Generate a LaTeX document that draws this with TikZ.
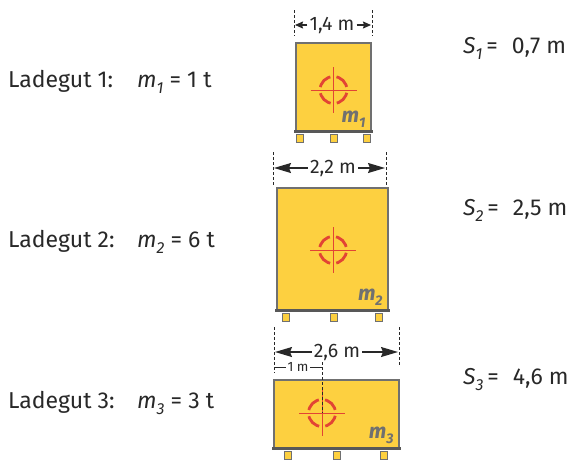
\documentclass[tikz,border=0pt]{standalone}
\usepackage{fontspec}
\setmainfont{Fira Sans}
\usetikzlibrary{arrows, arrows.meta, positioning}
\definecolor{gutgelb}{RGB}{253,208,64}
\definecolor{rahmengrau}{RGB}{112,112,112}
\definecolor{bodengrau}{RGB}{88,88,88}
\definecolor{zielrot}{RGB}{226,68,52}
\definecolor{textgrau}{RGB}{40,40,40}
\definecolor{mgrau}{RGB}{112,112,112}
\newcommand{\ix}[1]{\raisebox{-0.27em}{\fontsize{16}{16}\selectfont\itshape #1}}
\newcommand{\bix}[1]{\raisebox{-0.22em}{\fontsize{14}{14}\selectfont\bfseries\itshape #1}}
\tikzset{
    ladung/.style = {rectangle, draw=rahmengrau, line width=1.5pt, fill=gutgelb, inner sep=0pt},
    fuss/.style = {rectangle, draw=rahmengrau, line width=1pt, fill=gutgelb, minimum width=7pt, minimum height=8pt, inner sep=0pt},
    boden/.style = {line width=3pt, draw=bodengrau},
    ziel/.style = {circle, draw=zielrot, line width=2.8pt, minimum size=27pt, inner sep=0pt, dash pattern=on 15pt off 6.2pt, dash phase=18.1pt},
    kreuz/.style = {draw=zielrot, line width=0.8pt},
    hilfslinie/.style = {draw=textgrau, line width=0.8pt, dash pattern=on 3pt off 2pt},
    masspfeil/.style = {line width=1.4pt, draw=textgrau, -{Stealth[length=17pt,width=10pt,inset=2pt]}},
    pfeilklein/.style = {line width=1.2pt, draw=textgrau, -{Stealth[length=8pt,width=7pt,inset=1pt]}},
    masslinie/.style = {line width=0.8pt, draw=textgrau},
    masstext/.style = {text=textgrau, font=\fontsize{19.5}{19.5}\selectfont, inner sep=2pt},
    klein/.style = {text=textgrau, font=\fontsize{13.5}{13.5}\selectfont, inner sep=1.5pt},
    beschr/.style = {text=textgrau, font=\fontsize{23}{26}\selectfont, inner sep=0pt},
    mtext/.style = {text=mgrau, font=\fontsize{21}{21}\selectfont\bfseries\itshape, inner sep=0pt}
}
\begin{document}
\begin{tikzpicture}[x=1pt, y=-1pt]
\useasboundingbox (0,0) rectangle (578,459);

% Ladegut 1
\node[ladung, minimum width=75pt, minimum height=88pt] (gut1) at (333.5,87) {};
\draw[boden] ([xshift=-1pt]gut1.south west) -- ([xshift=1pt]gut1.south east);
\node[fuss, anchor=north west] (fuss1a) at ([shift={(1pt,-2pt)}]gut1.south west) {};
\node[fuss, anchor=north] (fuss1b) at ([shift={(0pt,-2pt)}]gut1.south) {};
\node[fuss, anchor=north east] (fuss1c) at ([shift={(-1pt,-2pt)}]gut1.south east) {};
\node[ziel] (ziel1) at (333.5,90) {};
\draw[kreuz] ([xshift=-23pt]ziel1.center) -- ([xshift=23pt]ziel1.center);
\draw[kreuz] ([yshift=23pt]ziel1.center) -- ([yshift=-23pt]ziel1.center);
\node[mtext, anchor=south east] (mlab1) at ([shift={(-6pt,4pt)}]gut1.south east) {m\bix{1}};
% Mass 1,4 m
\draw[hilfslinie] (294,10) -- (294,36);
\draw[hilfslinie] (372,10) -- (372,36);
\coordinate (m1l) at (295,25);
\coordinate (m1r) at (371,25);
\node[masstext] (mass1) at (332,25) {1,4 m};
\draw[pfeilklein] (mass1) -- (m1l);
\draw[pfeilklein] (mass1) -- (m1r);

% Ladegut 2
\node[ladung, minimum width=111pt, minimum height=122pt] (gut2) at (332.5,249) {};
\draw[boden] ([xshift=-1pt]gut2.south west) -- ([xshift=1pt]gut2.south east);
\node[fuss, anchor=north west] (fuss2a) at ([shift={(6pt,-2pt)}]gut2.south west) {};
\node[fuss, anchor=north] (fuss2b) at ([shift={(1pt,-2pt)}]gut2.south) {};
\node[fuss, anchor=north east] (fuss2c) at ([shift={(-6pt,-2pt)}]gut2.south east) {};
\node[ziel] (ziel2) at (333,250) {};
\draw[kreuz] ([xshift=-23pt]ziel2.center) -- ([xshift=23pt]ziel2.center);
\draw[kreuz] ([yshift=23pt]ziel2.center) -- ([yshift=-23pt]ziel2.center);
\node[mtext, anchor=south east] (mlab2) at ([shift={(-6pt,5pt)}]gut2.south east) {m\bix{2}};
% Mass 2,2 m
\draw[hilfslinie] (273,152) -- (273,185);
\draw[hilfslinie] (386,152) -- (386,185);
\coordinate (m2l) at (274,168);
\coordinate (m2r) at (385,168);
\node[masstext] (mass2) at (333,168) {2,2 m};
\draw[masspfeil] (mass2) -- (m2l);
\draw[masspfeil] (mass2) -- (m2r);

% Ladegut 3
\node[ladung, minimum width=125pt, minimum height=68pt] (gut3) at (336.5,414) {};
\draw[boden] ([xshift=-1pt]gut3.south west) -- ([xshift=1pt]gut3.south east);
\node[fuss, anchor=north west] (fuss3a) at ([shift={(11pt,-2pt)}]gut3.south west) {};
\node[fuss, anchor=north] (fuss3b) at ([shift={(0pt,-2pt)}]gut3.south) {};
\node[fuss, anchor=north east] (fuss3c) at ([shift={(-12pt,-2pt)}]gut3.south east) {};
\node[ziel] (ziel3) at (322,413) {};
\draw[kreuz] ([xshift=-23pt]ziel3.center) -- ([xshift=23pt]ziel3.center);
\draw[kreuz] ([yshift=23pt]ziel3.center) -- ([yshift=-23pt]ziel3.center);
\node[mtext, anchor=south east] (mlab3) at ([shift={(-6pt,5pt)}]gut3.south east) {m\bix{3}};
% Mass 2,6 m und 1 m
\draw[hilfslinie] (274,327) -- (274,373);
\draw[hilfslinie] (399,327) -- (399,365);
\coordinate (m3l) at (275,352);
\coordinate (m3r) at (398,352);
\node[masstext] (mass3) at (337,352) {2,6 m};
\draw[masspfeil] (mass3) -- (m3l);
\draw[masspfeil] (mass3) -- (m3r);
\coordinate (k1l) at (274,367);
\coordinate (k1r) at (322,367);
\node[klein] (mass4) at (298,367) {1 m};
\draw[masslinie] (mass4) -- (k1l);
\draw[masslinie] (mass4) -- (k1r);
\draw[hilfslinie] (322,362) -- (ziel3.center);

% Beschriftung links
\node[beschr, anchor=base west] (lad1) at (8,87) {Ladegut 1:};
\node[beschr, anchor=base west] (masse1) at (137,87) {\textit{m}\ix{1} = 1 t};
\node[beschr, anchor=base west] (lad2) at (8,247) {Ladegut 2:};
\node[beschr, anchor=base west] (masse2) at (137,247) {\textit{m}\ix{2} = 6 t};
\node[beschr, anchor=base west] (lad3) at (8,408) {Ladegut 3:};
\node[beschr, anchor=base west] (masse3) at (137,408) {\textit{m}\ix{3} = 3 t};

% Beschriftung rechts
\node[beschr, anchor=base west] (s1) at (463,53) {\textit{S}\ix{1}\,=\ \ \hspace{2pt}0,7 m};
\node[beschr, anchor=base west] (s2) at (463,215) {\textit{S}\ix{2}\,=\ \ \hspace{2pt}2,5 m};
\node[beschr, anchor=base west] (s3) at (463,384) {\textit{S}\ix{3}\,=\ \ \hspace{2pt}4,6 m};
\end{tikzpicture}
\end{document}
